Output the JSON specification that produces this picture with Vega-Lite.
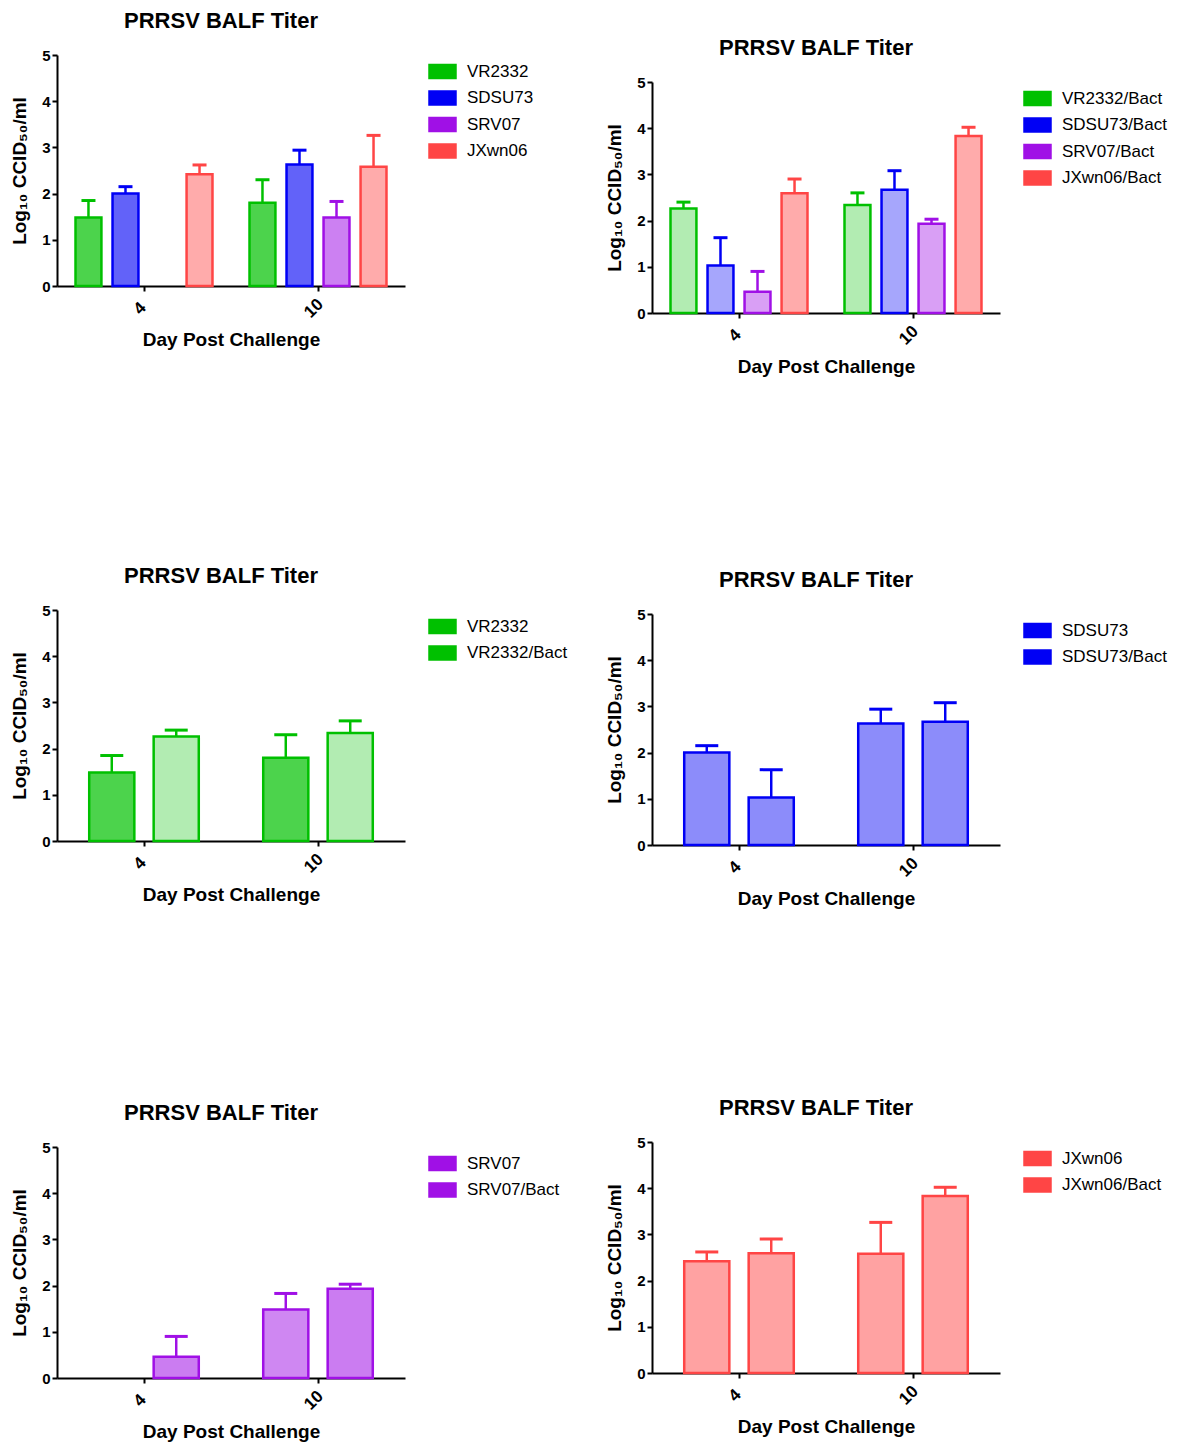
{
  "$schema": "https://vega.github.io/schema/vega-lite/v6.json",
  "background": "white",
  "padding": {"left": 10, "top": 10, "right": 0, "bottom": 0},
  "data": {"values": [
    {"day": "4", "group": "VR2332", "value": 1.48, "upper": 1.85},
    {"day": "10", "group": "VR2332", "value": 1.8, "upper": 2.3},
    {"day": "4", "group": "SDSU73", "value": 2.0, "upper": 2.15},
    {"day": "10", "group": "SDSU73", "value": 2.63, "upper": 2.94},
    {"day": "10", "group": "SRV07", "value": 1.48, "upper": 1.83},
    {"day": "4", "group": "JXwn06", "value": 2.42, "upper": 2.62},
    {"day": "10", "group": "JXwn06", "value": 2.58, "upper": 3.26},
    {"day": "4", "group": "VR2332/Bact", "value": 2.26, "upper": 2.4},
    {"day": "10", "group": "VR2332/Bact", "value": 2.34, "upper": 2.6},
    {"day": "4", "group": "SDSU73/Bact", "value": 1.03, "upper": 1.63},
    {"day": "10", "group": "SDSU73/Bact", "value": 2.67, "upper": 3.08},
    {"day": "4", "group": "SRV07/Bact", "value": 0.46, "upper": 0.9},
    {"day": "10", "group": "SRV07/Bact", "value": 1.93, "upper": 2.03},
    {"day": "4", "group": "JXwn06/Bact", "value": 2.59, "upper": 2.9},
    {"day": "10", "group": "JXwn06/Bact", "value": 3.83, "upper": 4.02}
  ]},
  "resolve": {
    "scale": {"fill": "independent", "stroke": "independent", "fillOpacity": "independent", "xOffset": "independent"},
    "legend": {"fill": "independent", "stroke": "independent", "fillOpacity": "independent"}
  },
  "columns": 2,
  "align": {"row": "none", "column": "each"},
  "spacing": {"row": 188, "column": 29},
  "concat": [
    {
      "title": {"text": "PRRSV BALF Titer"},
      "width": 348, "height": 231,
      "transform": [{"filter": {"field": "group", "oneOf": ["VR2332", "SDSU73", "SRV07", "JXwn06"]}}],
      "encoding": {
        "x": {"field": "day", "type": "nominal", "sort": ["4", "10"], "scale": {"paddingInner": 0, "paddingOuter": 0}, "axis": {"title": "Day Post Challenge"}},
        "xOffset": {"field": "group", "type": "nominal", "scale": {"domain": ["VR2332", "SDSU73", "SRV07", "JXwn06"], "paddingInner": 0.3, "paddingOuter": 0.5}},
        "y": {"field": "value", "type": "quantitative", "scale": {"domain": [0, 5], "nice": false}, "axis": {"title": "Log₁₀ CCID₅₀/ml", "values": [0, 1, 2, 3, 4, 5]}}
      },
      "layer": [
        {"mark": {"type": "bar", "strokeWidth": 2.5},
         "encoding": {
           "fill": {"field": "group", "type": "nominal", "scale": {"domain": ["VR2332", "SDSU73", "SRV07", "JXwn06"], "range": ["#00C000", "#0000F5", "#A010E6", "#FF4545"]}},
           "stroke": {"field": "group", "type": "nominal", "scale": {"domain": ["VR2332", "SDSU73", "SRV07", "JXwn06"], "range": ["#00C000", "#0000F5", "#A010E6", "#FF4545"]}},
           "fillOpacity": {"field": "group", "type": "nominal", "scale": {"domain": ["VR2332", "SDSU73", "SRV07", "JXwn06"], "range": [0.7, 0.45, 0.5, 0.5]}}
         }},
        {"mark": {"type": "rule", "strokeWidth": 2.5},
         "encoding": {"y2": {"field": "upper"}, "stroke": {"field": "group", "type": "nominal"}}},
        {"mark": {"type": "tick", "thickness": 3, "size": 14, "opacity": 1},
         "encoding": {"y": {"field": "upper", "type": "quantitative"}, "fill": {"field": "group", "type": "nominal"}}}
      ]
    },
    {
      "title": {"text": "PRRSV BALF Titer", "offset": -5},
      "width": 348, "height": 258,
      "transform": [{"filter": {"field": "group", "oneOf": ["VR2332/Bact", "SDSU73/Bact", "SRV07/Bact", "JXwn06/Bact"]}}],
      "encoding": {
        "x": {"field": "day", "type": "nominal", "sort": ["4", "10"], "scale": {"paddingInner": 0, "paddingOuter": 0}, "axis": {"title": "Day Post Challenge"}},
        "xOffset": {"field": "group", "type": "nominal", "scale": {"domain": ["VR2332/Bact", "SDSU73/Bact", "SRV07/Bact", "JXwn06/Bact"], "paddingInner": 0.3, "paddingOuter": 0.5}},
        "y": {"field": "value", "type": "quantitative", "scale": {"domain": [0, 5], "nice": false, "range": [258, 27]}, "axis": {"title": "Log₁₀ CCID₅₀/ml", "values": [0, 1, 2, 3, 4, 5]}}
      },
      "layer": [
        {"mark": {"type": "bar", "strokeWidth": 2.5},
         "encoding": {
           "fill": {"field": "group", "type": "nominal", "scale": {"domain": ["VR2332/Bact", "SDSU73/Bact", "SRV07/Bact", "JXwn06/Bact"], "range": ["#00C000", "#0000F5", "#A010E6", "#FF4545"]}, "legend": {"orient": "none", "legendX": 369, "legendY": 27}},
           "stroke": {"field": "group", "type": "nominal", "scale": {"domain": ["VR2332/Bact", "SDSU73/Bact", "SRV07/Bact", "JXwn06/Bact"], "range": ["#00C000", "#0000F5", "#A010E6", "#FF4545"]}, "legend": {"orient": "none", "legendX": 369, "legendY": 27}},
           "fillOpacity": {"field": "group", "type": "nominal", "scale": {"domain": ["VR2332/Bact", "SDSU73/Bact", "SRV07/Bact", "JXwn06/Bact"], "range": [0.3, 0.45, 0.55, 0.5]}, "legend": {"orient": "none", "legendX": 369, "legendY": 27}}
         }},
        {"mark": {"type": "rule", "strokeWidth": 2.5},
         "encoding": {"y2": {"field": "upper"}, "stroke": {"field": "group", "type": "nominal"}}},
        {"mark": {"type": "tick", "thickness": 3, "size": 14, "opacity": 1},
         "encoding": {"y": {"field": "upper", "type": "quantitative"}, "fill": {"field": "group", "type": "nominal"}}}
      ]
    },
    {
      "title": {"text": "PRRSV BALF Titer"},
      "width": 348, "height": 231,
      "transform": [{"filter": {"field": "group", "oneOf": ["VR2332", "VR2332/Bact"]}}],
      "encoding": {
        "x": {"field": "day", "type": "nominal", "sort": ["4", "10"], "scale": {"paddingInner": 0, "paddingOuter": 0}, "axis": {"title": "Day Post Challenge"}},
        "xOffset": {"field": "group", "type": "nominal", "scale": {"domain": ["VR2332", "VR2332/Bact"], "paddingInner": 0.3, "paddingOuter": 0.5}},
        "y": {"field": "value", "type": "quantitative", "scale": {"domain": [0, 5], "nice": false}, "axis": {"title": "Log₁₀ CCID₅₀/ml", "values": [0, 1, 2, 3, 4, 5]}}
      },
      "layer": [
        {"mark": {"type": "bar", "strokeWidth": 2.5},
         "encoding": {
           "fill": {"field": "group", "type": "nominal", "scale": {"domain": ["VR2332", "VR2332/Bact"], "range": ["#00C000", "#00C000"]}},
           "stroke": {"field": "group", "type": "nominal", "scale": {"domain": ["VR2332", "VR2332/Bact"], "range": ["#00C000", "#00C000"]}},
           "fillOpacity": {"field": "group", "type": "nominal", "scale": {"domain": ["VR2332", "VR2332/Bact"], "range": [0.7, 0.3]}}
         }},
        {"mark": {"type": "rule", "strokeWidth": 2.5},
         "encoding": {"y2": {"field": "upper"}, "stroke": {"field": "group", "type": "nominal"}}},
        {"mark": {"type": "tick", "thickness": 3, "size": 23, "opacity": 1},
         "encoding": {"y": {"field": "upper", "type": "quantitative"}, "fill": {"field": "group", "type": "nominal"}}}
      ]
    },
    {
      "title": {"text": ["", "PRRSV BALF Titer"], "lineHeight": 4},
      "width": 348, "height": 231,
      "transform": [{"filter": {"field": "group", "oneOf": ["SDSU73", "SDSU73/Bact"]}}],
      "encoding": {
        "x": {"field": "day", "type": "nominal", "sort": ["4", "10"], "scale": {"paddingInner": 0, "paddingOuter": 0}, "axis": {"title": "Day Post Challenge"}},
        "xOffset": {"field": "group", "type": "nominal", "scale": {"domain": ["SDSU73", "SDSU73/Bact"], "paddingInner": 0.3, "paddingOuter": 0.5}},
        "y": {"field": "value", "type": "quantitative", "scale": {"domain": [0, 5], "nice": false}, "axis": {"title": "Log₁₀ CCID₅₀/ml", "values": [0, 1, 2, 3, 4, 5]}}
      },
      "layer": [
        {"mark": {"type": "bar", "strokeWidth": 2.5},
         "encoding": {
           "fill": {"field": "group", "type": "nominal", "scale": {"domain": ["SDSU73", "SDSU73/Bact"], "range": ["#0000F5", "#0000F5"]}},
           "stroke": {"field": "group", "type": "nominal", "scale": {"domain": ["SDSU73", "SDSU73/Bact"], "range": ["#0000F5", "#0000F5"]}},
           "fillOpacity": {"field": "group", "type": "nominal", "scale": {"domain": ["SDSU73", "SDSU73/Bact"], "range": [0.45, 0.45]}}
         }},
        {"mark": {"type": "rule", "strokeWidth": 2.5},
         "encoding": {"y2": {"field": "upper"}, "stroke": {"field": "group", "type": "nominal"}}},
        {"mark": {"type": "tick", "thickness": 3, "size": 23, "opacity": 1},
         "encoding": {"y": {"field": "upper", "type": "quantitative"}, "fill": {"field": "group", "type": "nominal"}}}
      ]
    },
    {
      "title": {"text": ["", "PRRSV BALF Titer"], "lineHeight": 9},
      "width": 348, "height": 231,
      "transform": [{"filter": {"field": "group", "oneOf": ["SRV07", "SRV07/Bact"]}}],
      "encoding": {
        "x": {"field": "day", "type": "nominal", "sort": ["4", "10"], "scale": {"domain": ["4", "10"], "paddingInner": 0, "paddingOuter": 0}, "axis": {"title": "Day Post Challenge"}},
        "xOffset": {"field": "group", "type": "nominal", "scale": {"domain": ["SRV07", "SRV07/Bact"], "paddingInner": 0.3, "paddingOuter": 0.5}},
        "y": {"field": "value", "type": "quantitative", "scale": {"domain": [0, 5], "nice": false}, "axis": {"title": "Log₁₀ CCID₅₀/ml", "values": [0, 1, 2, 3, 4, 5]}}
      },
      "layer": [
        {"mark": {"type": "bar", "strokeWidth": 2.5},
         "encoding": {
           "fill": {"field": "group", "type": "nominal", "scale": {"domain": ["SRV07", "SRV07/Bact"], "range": ["#A010E6", "#A010E6"]}},
           "stroke": {"field": "group", "type": "nominal", "scale": {"domain": ["SRV07", "SRV07/Bact"], "range": ["#A010E6", "#A010E6"]}},
           "fillOpacity": {"field": "group", "type": "nominal", "scale": {"domain": ["SRV07", "SRV07/Bact"], "range": [0.5, 0.55]}}
         }},
        {"mark": {"type": "rule", "strokeWidth": 2.5},
         "encoding": {"y2": {"field": "upper"}, "stroke": {"field": "group", "type": "nominal"}}},
        {"mark": {"type": "tick", "thickness": 3, "size": 23, "opacity": 1},
         "encoding": {"y": {"field": "upper", "type": "quantitative"}, "fill": {"field": "group", "type": "nominal"}}}
      ]
    },
    {
      "title": {"text": "PRRSV BALF Titer"},
      "width": 348, "height": 231,
      "transform": [{"filter": {"field": "group", "oneOf": ["JXwn06", "JXwn06/Bact"]}}],
      "encoding": {
        "x": {"field": "day", "type": "nominal", "sort": ["4", "10"], "scale": {"paddingInner": 0, "paddingOuter": 0}, "axis": {"title": "Day Post Challenge"}},
        "xOffset": {"field": "group", "type": "nominal", "scale": {"domain": ["JXwn06", "JXwn06/Bact"], "paddingInner": 0.3, "paddingOuter": 0.5}},
        "y": {"field": "value", "type": "quantitative", "scale": {"domain": [0, 5], "nice": false}, "axis": {"title": "Log₁₀ CCID₅₀/ml", "values": [0, 1, 2, 3, 4, 5]}}
      },
      "layer": [
        {"mark": {"type": "bar", "strokeWidth": 2.5},
         "encoding": {
           "fill": {"field": "group", "type": "nominal", "scale": {"domain": ["JXwn06", "JXwn06/Bact"], "range": ["#FF4545", "#FF4545"]}},
           "stroke": {"field": "group", "type": "nominal", "scale": {"domain": ["JXwn06", "JXwn06/Bact"], "range": ["#FF4545", "#FF4545"]}},
           "fillOpacity": {"field": "group", "type": "nominal", "scale": {"domain": ["JXwn06", "JXwn06/Bact"], "range": [0.5, 0.5]}}
         }},
        {"mark": {"type": "rule", "strokeWidth": 2.5},
         "encoding": {"y2": {"field": "upper"}, "stroke": {"field": "group", "type": "nominal"}}},
        {"mark": {"type": "tick", "thickness": 3, "size": 23, "opacity": 1},
         "encoding": {"y": {"field": "upper", "type": "quantitative"}, "fill": {"field": "group", "type": "nominal"}}}
      ]
    }
  ],
  "config": {
    "font": "Arial",
    "view": {"stroke": null},
    "title": {"fontSize": 22, "fontWeight": "bold", "color": "black", "anchor": "middle", "frame": "group", "dx": -10, "offset": 15},
    "axis": {
      "grid": false, "domainColor": "black", "domainWidth": 2, "tickColor": "black", "tickWidth": 2, "tickSize": 5,
      "labelFont": "Arial", "labelFontWeight": "bold", "labelFontSize": 15, "labelColor": "black", "labelPadding": 2,
      "titleFont": "Arial", "titleFontSize": 19, "titleFontWeight": "bold", "titleColor": "black"
    },
    "axisX": {"labelAngle": -45, "labelAlign": "center", "labelBaseline": "middle", "labelFontSize": 17, "labelPadding": 17, "labelOffset": -4, "titlePadding": 10},
    "axisY": {"titlePadding": 12},
    "legend": {
      "title": null, "orient": "right", "offset": 21, "padding": 8,
      "labelFont": "Arial", "labelFontSize": 17, "labelColor": "black", "labelOffset": 16,
      "symbolType": "M-2,-1H2V1H-2Z", "symbolSize": 169, "symbolStrokeWidth": 2.5, "rowPadding": 3.5
    }
  }
}
